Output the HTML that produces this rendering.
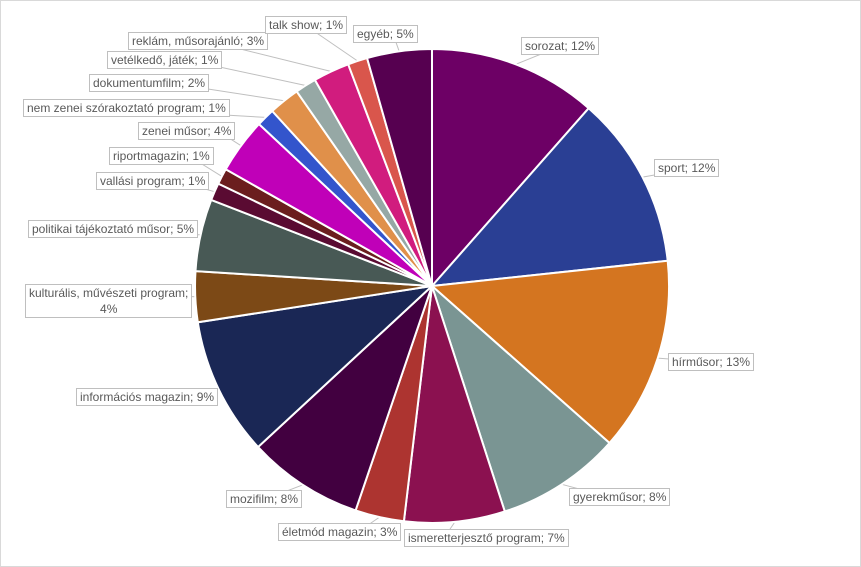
<!DOCTYPE html>
<html><head><meta charset="utf-8"><style>
html,body{margin:0;padding:0;background:#fff}
#w{position:relative;width:859px;height:565px;border:1px solid #d9d9d9;overflow:hidden}
.l{position:absolute;border:1px solid #bfbfbf;background:#fff;color:#595959;font:12px "Liberation Sans",sans-serif;line-height:16px;padding:0 3px;white-space:nowrap;text-align:center}
svg{position:absolute;left:0;top:0}
</style></head><body><div id="w">
<svg id="s" width="861" height="567"></svg>
<div id="labels"></div>
</div>
<script>
var cx=431,cy=285,r=237;
var d=[["sorozat; 12%",41.4,"#6d0065",520,36],["sport; 12%",83.9,"#2a3f94",653,158],["hírműsor; 13%",131.5,"#d47520",667,352],
["gyerekműsor; 8%",162.1,"#7a9593",568,487],["ismeretterjesztő program; 7%",186.8,"#8b1150",403,528],["életmód magazin; 3%",198.8,"#ad3430",277,522],
["mozifilm; 8%",227.2,"#420040",225,489],["információs magazin; 9%",261.2,"#1a2755",75,387],["kulturális, művészeti program;<br>4%",273.6,"#7c4916",24,283],
["politikai tájékoztató műsor; 5%",291.3,"#485955",27,219],["vallási program; 1%",295.6,"#5a0b32",95,171],["riportmagazin; 1%",299.5,"#6b1e1e",108,146],
["zenei műsor; 4%",313.1,"#c000b8",137,121],["nem zenei szórakoztató program; 1%",317.6,"#3355cc",22,98],["dokumentumfilm; 2%",325.2,"#e0904a",88,73],
["vetélkedő, játék; 1%",330.4,"#96a8a5",106,50],["reklám, műsorajánló; 3%",339.3,"#d11c7e",127,31],["talk show; 1%",344.1,"#d9564c",264,15],["egyéb; 5%",360,"#560050",352,24]];
var s="",a0=0,L="";
function pt(a,rr){var t=a*Math.PI/180;return [cx+rr*Math.sin(t),cy-rr*Math.cos(t)];}
var lines="";
d.forEach(function(e){var a1=e[1],p0=pt(a0,r),p1=pt(a1,r),lg=(a1-a0)>180?1:0;
s+='<path d="M'+cx+','+cy+'L'+p0[0].toFixed(1)+','+p0[1].toFixed(1)+'A'+r+','+r+' 0 '+lg+' 1 '+p1[0].toFixed(1)+','+p1[1].toFixed(1)+'Z" fill="'+e[2]+'" stroke="#fff" stroke-width="2"/>';
var m=pt((a0+a1)/2,r),x=e[3],y=e[4];
L+='<div class="l" style="left:'+x+'px;top:'+y+'px">'+e[0]+'</div>';
var ex=x+(m[0]>x?(m[0]<cx?x:x):x),ey=y+9;
lines+='<line x1="'+m[0].toFixed(1)+'" y1="'+m[1].toFixed(1)+'" x2="'+(m[0]>x+100?x+80:x+40)+'" y2="'+ey+'" stroke="#bfbfbf" stroke-width="1"/>';
a0=a1;});
document.getElementById("s").innerHTML=lines+s;
document.getElementById("labels").innerHTML=L;
</script>
</body></html>
